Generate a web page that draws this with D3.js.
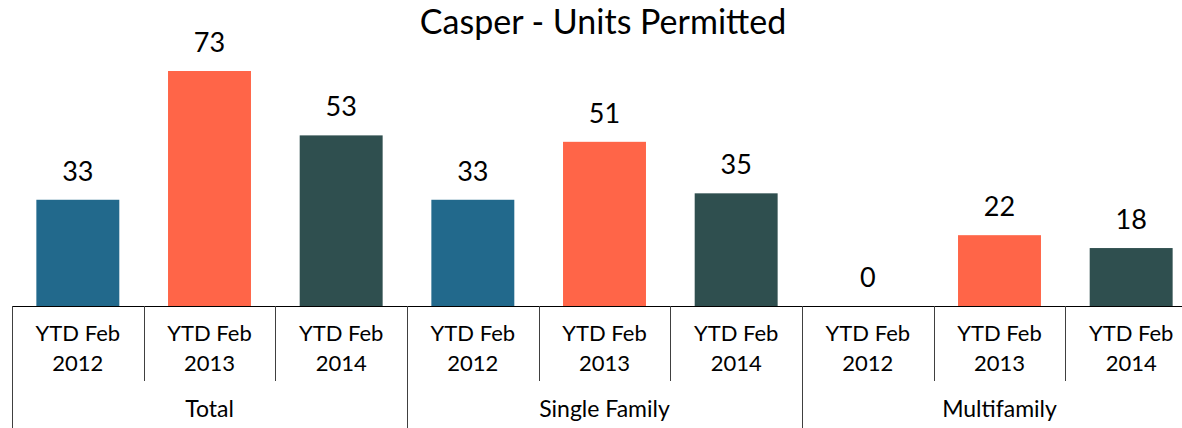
<!DOCTYPE html>
<html><head><meta charset="utf-8">
<script src="https://cdn.jsdelivr.net/npm/d3@7"></script>
<style>body{margin:0;background:#fff}svg{display:block}text{font-family:Lato,"Open Sans",sans-serif;fill:#000}</style>
</head><body><svg id="c" width="1182" height="428"></svg>
<script>
const groups = ["Total", "Single Family", "Multifamily"];
const periods = ["YTD Feb 2012", "YTD Feb 2013", "YTD Feb 2014"];
const totalValues = [33, 73, 53];
const singleFamilyValues = [33, 51, 35];
const multifamilyValues = [0, 22, 18];
const colors = ["#22698C", "#FF6548", "#2F4F4F"];

const seriesByGroup = [totalValues, singleFamilyValues, multifamilyValues];
const data = [];
groups.forEach((g, gi) => periods.forEach((p, pi) => data.push({group: g, period: p, pi, key: g + "|" + p, value: seriesByGroup[gi][pi]})));

const svg = d3.select("#c");
const left = 12, right = 1197, base = 306;
const x = d3.scaleBand().domain(data.map(d => d.key)).range([left, right]).paddingInner(0.37).paddingOuter(0.185);
const xCat = d3.scaleBand().domain(data.map(d => d.key)).range([left, right]);
const xGroup = d3.scaleBand().domain(groups).range([left, right]);
const y = d3.scaleLinear().domain([0, 73]).range([base, 71]);

svg.append("text").attr("x", 603).attr("y", 34).attr("text-anchor", "middle").style("font-size", "34px").text("Casper - Units Permitted");

svg.selectAll("rect.bar").data(data).join("rect").attr("class", "bar")
  .attr("x", d => x(d.key)).attr("width", x.bandwidth())
  .attr("y", d => y(d.value)).attr("height", d => base - y(d.value))
  .attr("fill", d => colors[d.pi]);

svg.selectAll("text.val").data(data).join("text").attr("class", "val")
  .attr("x", d => x(d.key) + x.bandwidth() / 2).attr("y", d => y(d.value) - 19)
  .attr("text-anchor", "middle").style("font-size", "27px").text(d => d.value);

// axis line
svg.append("line").attr("x1", left).attr("x2", right).attr("y1", base + 0.5).attr("y2", base + 0.5).attr("stroke", "#000").attr("stroke-width", 1.2);

// category separators
data.forEach((d, i) => {
  if (i % 3 !== 0) {
    const xx = Math.round(xCat(d.key)) + 0.5;
    svg.append("line").attr("x1", xx).attr("x2", xx).attr("y1", base).attr("y2", 381).attr("stroke", "#404040").attr("stroke-width", 1);
  }
});
groups.forEach(g => {
  const xx = Math.round(xGroup(g)) + 0.5;
  svg.append("line").attr("x1", xx).attr("x2", xx).attr("y1", base).attr("y2", 428).attr("stroke", "#404040").attr("stroke-width", 1);
});
{
  const xx = Math.round(right) + 0.5;
  svg.append("line").attr("x1", xx).attr("x2", xx).attr("y1", base).attr("y2", 428).attr("stroke", "#404040");
}

// category labels
const cl = svg.selectAll("text.cat").data(data).join("text").attr("class", "cat")
  .attr("text-anchor", "middle").style("font-size", "22px");
cl.append("tspan").attr("x", d => xCat(d.key) + xCat.bandwidth() / 2).attr("y", 341).text(d => d.period.split(" ").slice(0, 2).join(" "));
cl.append("tspan").attr("x", d => xCat(d.key) + xCat.bandwidth() / 2).attr("y", 371).text(d => d.period.split(" ")[2]);

svg.selectAll("text.grp").data(groups).join("text").attr("class", "grp")
  .attr("x", g => xGroup(g) + xGroup.bandwidth() / 2).attr("y", 417)
  .attr("text-anchor", "middle").style("font-size", "23px").text(g => g);
</script></body></html>
